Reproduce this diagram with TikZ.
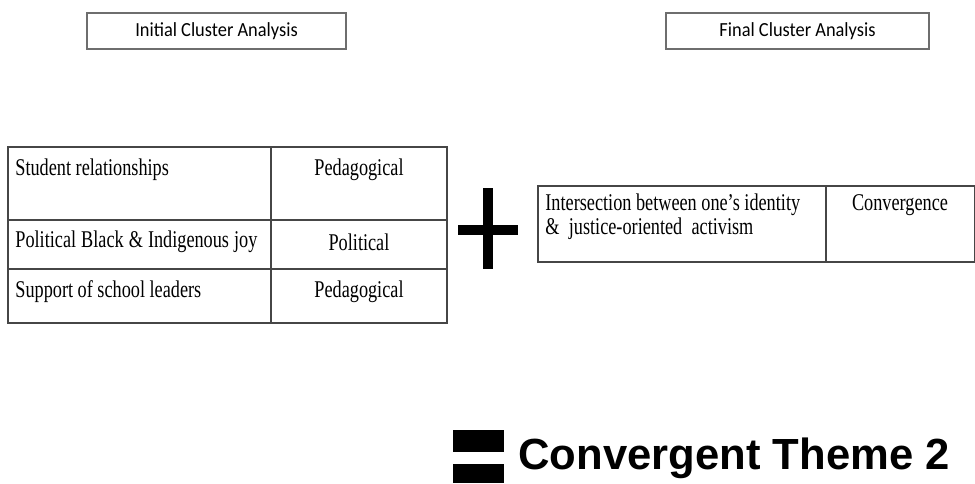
\documentclass[tikz,border=0pt]{standalone}
\usepackage{fontspec}
\usepackage{tikz}
\usepackage{xcolor}
\newfontfamily\labelfont[FakeStretch=0.92]{Carlito}
\newfontfamily\tabfont[FakeStretch=0.76]{Liberation Serif}
\newfontfamily\themefont{Liberation Sans}
\definecolor{boxgray}{RGB}{110,110,110}
\definecolor{tabgray}{RGB}{70,70,70}
\tikzset{
  headbox/.style={draw=boxgray,line width=0.6pt,minimum width=129.5pt,minimum height=18pt,inner sep=0pt,font=\labelfont\fontsize{10}{12}\selectfont},
  tabline/.style={draw=tabgray,line width=0.7pt},
  celltext/.style={inner sep=0pt,font=\tabfont\fontsize{12}{14}\selectfont},
}

\begin{document}
\begin{tikzpicture}[x=0.5pt,y=-0.5pt]
  \useasboundingbox (0,0) rectangle (975,483);
  % headings
  \node[headbox] (init) at (216.5,31) {Initial Cluster Analysis};
  \node[headbox,minimum width=131.5pt] (final) at (797.5,31) {Final Cluster Analysis};
  % initial clusters
  \coordinate (L1) at (8,147);
  \coordinate (L2) at (447,323);
  \draw[tabline] (L1) rectangle (L2);
  \draw[tabline] (8,220)--(447,220);
  \draw[tabline] (8,269)--(447,269);
  \draw[tabline] (271,147)--(271,323);
  \node[celltext,anchor=west] (c11) at (15,170) {Student relationships};
  \node[celltext] (c12) at (359,170) {Pedagogical};
  \node[celltext,anchor=west] (c21) at (15,242) {\makebox[121pt][s]{Political Black \& Indigenous joy}};
  \node[celltext] (c22) at (359,242) {Political};
  \node[celltext,anchor=west] (c31) at (15,292) {Support of school leaders};
  \node[celltext] (c32) at (359,292) {Pedagogical};
  % plus
  \fill (458,225) rectangle (518,235);
  \fill (483,188) rectangle (493,269);
  % final cluster
  \draw[tabline] (538,186) rectangle (974.5,262);
  \draw[tabline] (826,186)--(826,262);
  \node[celltext,anchor=west] (d11) at (545,205) {Intersection between one’s identity};
  \node[celltext,anchor=west] (d12) at (545,229) {\makebox[104pt][s]{\& justice-oriented activism}};
  \node[celltext] (d2) at (900,205) {Convergence};
  % equals
  \fill (453,430) rectangle (504,452);
  \fill (453,464) rectangle (504,483);
  \node[anchor=west,inner sep=0pt,font=\themefont\bfseries\fontsize{21.8}{24}\selectfont] (theme) at (518,458) {Convergent Theme 2};
\end{tikzpicture}
\end{document}
